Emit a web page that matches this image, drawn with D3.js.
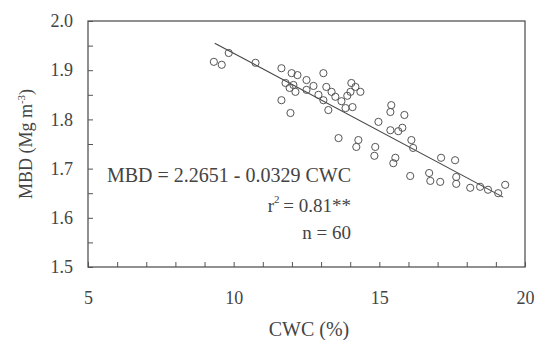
<!DOCTYPE html>
<html>
<head>
<meta charset="utf-8">
<script src="https://cdn.jsdelivr.net/npm/d3@7"></script>
<style>
  body { margin: 0; background: #fff; }
  svg text { font-family: "Liberation Serif", "Times New Roman", serif; fill: #444; }
</style>
</head>
<body>
<div id="chart"></div>
<script>
// CWC (%) vs MBD (Mg m-3)
const cwc = [9.32, 9.59, 9.83, 10.75, 11.64, 11.99, 12.19, 11.78, 11.92, 12.05,
  11.64, 11.95, 12.50, 12.74, 13.08, 12.50, 13.18, 13.36, 13.49, 12.91,
  13.08, 14.04, 14.18, 14.01, 13.90, 13.25, 13.84, 14.08, 14.97, 13.60,
  14.28, 14.21, 14.86, 14.83, 15.41, 15.38, 15.86, 15.38, 15.65, 16.10,
  16.16, 15.55, 15.48, 16.06, 16.71, 16.75, 17.09, 17.12, 17.60, 17.64,
  17.64, 18.12, 18.46, 19.08, 19.32, 12.12, 13.70, 14.35, 15.79, 18.73];
const mbd = [1.917, 1.911, 1.935, 1.915, 1.904, 1.894, 1.890, 1.874, 1.864, 1.870,
  1.839, 1.813, 1.880, 1.868, 1.894, 1.860, 1.866, 1.856, 1.846, 1.850,
  1.839, 1.874, 1.866, 1.856, 1.848, 1.819, 1.823, 1.825, 1.795, 1.762,
  1.758, 1.744, 1.744, 1.726, 1.829, 1.815, 1.809, 1.778, 1.776, 1.758,
  1.742, 1.722, 1.711, 1.685, 1.691, 1.675, 1.673, 1.722, 1.717, 1.683,
  1.669, 1.661, 1.663, 1.650, 1.667, 1.856, 1.837, 1.856, 1.783, 1.657];

// fitted line as drawn in the figure (end points)
const fitX = [9.35, 19.25];
const fitY = [1.955, 1.642];

const xTickValues = d3.range(5, 20.01, 1);
const xTickLabels = [5, 10, 15, 20];
const yTickValues = d3.range(1.5, 2.001, 0.05);
const yTickLabels = ['1.5', '1.6', '1.7', '1.8', '1.9', '2.0'];

const annotation = ['MBD = 2.2651 - 0.0329 CWC', ' = 0.81**', 'n = 60'];

const W = 539, H = 340;
const margin = {top: 21, right: 14, bottom: 73, left: 88};
const width = W - margin.left - margin.right;
const height = H - margin.top - margin.bottom;

const svg = d3.select('#chart').append('svg')
  .attr('width', W)
  .attr('height', H);

const mainG = svg.append('g')
  .attr('transform', `translate(${margin.left},${margin.top})`);

const xScale = d3.scaleLinear().domain([5, 20]).range([0, width]);
const yScale = d3.scaleLinear().domain([1.5, 2.0]).range([height, 0]);

// x axis, ticks inside the frame
const xAxis = d3.axisBottom(xScale)
  .tickValues(xTickValues)
  .tickSizeInner(-5)
  .tickSizeOuter(0)
  .tickPadding(24)
  .tickFormat(d => xTickLabels.includes(Math.round(d * 100) / 100) ? d3.format('d')(d) : '');
const gx = mainG.append('g')
  .attr('transform', `translate(0,${height})`)
  .call(xAxis);

// y axis
const yAxis = d3.axisLeft(yScale)
  .tickValues(yTickValues)
  .tickSizeInner(-5)
  .tickSizeOuter(0)
  .tickPadding(15)
  .tickFormat(d => {
    const s = d3.format('.1f')(d);
    return (Math.abs(d * 10 - Math.round(d * 10)) < 1e-6 && yTickLabels.includes(s)) ? s : '';
  });
const gy = mainG.append('g').call(yAxis);

[gx, gy].forEach(g => {
  g.select('.domain').remove();
  g.selectAll('line').attr('stroke', '#555').attr('stroke-width', 1);
  g.selectAll('text').attr('font-size', 18).attr('fill', '#444');
});

// frame
mainG.append('rect')
  .attr('x', 0).attr('y', 0)
  .attr('width', width).attr('height', height)
  .attr('fill', 'none')
  .attr('stroke', '#555')
  .attr('stroke-width', 1.3);

// regression line
mainG.append('line')
  .attr('x1', xScale(fitX[0]))
  .attr('y1', yScale(fitY[0]))
  .attr('x2', xScale(fitX[1]))
  .attr('y2', yScale(fitY[1]))
  .attr('stroke', '#444')
  .attr('stroke-width', 1.1);

// points
mainG.selectAll('circle.pt')
  .data(cwc.map((c, i) => ({x: c, y: mbd[i]})))
  .enter()
  .append('circle')
  .attr('class', 'pt')
  .attr('cx', d => xScale(d.x))
  .attr('cy', d => yScale(d.y))
  .attr('r', 3.6)
  .attr('fill', 'none')
  .attr('stroke', '#555')
  .attr('stroke-width', 1);

// equation text, right aligned
const annX = 351 - margin.left;
const annY = [182, 212, 239];
mainG.append('text')
  .attr('x', annX).attr('y', annY[0] - margin.top)
  .attr('text-anchor', 'end')
  .attr('font-size', 20)
  .text(annotation[0]);
const r2 = mainG.append('text')
  .attr('x', annX).attr('y', annY[1] - margin.top)
  .attr('text-anchor', 'end')
  .attr('font-size', 19);
r2.append('tspan').text('r');
r2.append('tspan').attr('dy', -9).attr('font-size', 11).text('2');
r2.append('tspan').attr('dy', 9).attr('dx', -1).text(annotation[1]);
mainG.append('text')
  .attr('x', annX).attr('y', annY[2] - margin.top)
  .attr('text-anchor', 'end')
  .attr('font-size', 19)
  .text(annotation[2]);

// axis titles
svg.append('text')
  .attr('x', 309).attr('y', 336)
  .attr('text-anchor', 'middle')
  .attr('font-size', 20)
  .text('CWC (%)');

const yt = svg.append('text')
  .attr('transform', 'translate(32,144) rotate(-90)')
  .attr('text-anchor', 'middle')
  .attr('font-size', 18);
yt.append('tspan').text('MBD (Mg m');
yt.append('tspan').attr('dy', -7).attr('font-size', 11).text('-3');
yt.append('tspan').attr('dy', 7).text(')');
</script>
</body>
</html>
